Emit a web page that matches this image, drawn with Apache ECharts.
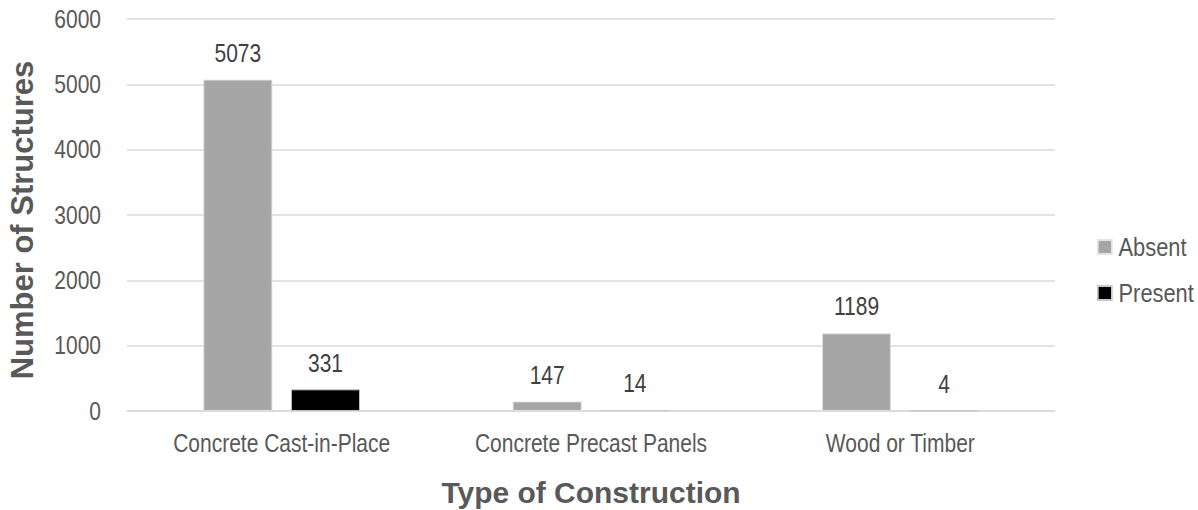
<!DOCTYPE html>
<html>
<head>
<meta charset="utf-8">
<script src="https://cdn.jsdelivr.net/npm/echarts@6/dist/echarts.min.js"></script>
<style>
  html, body { margin: 0; padding: 0; background: #fff; overflow: hidden; }
  #wrap { width: 1198px; height: 510px; overflow: hidden; }
  #chart { height: 510px; transform-origin: 0 0; }
</style>
</head>
<body>
<div id="wrap"><div id="chart"></div></div>
<script>
// Structures by construction type, split by presence of the feature
const categories = ['Concrete Cast-in-Place', 'Concrete Precast Panels', 'Wood or Timber'];
const absentValues = [5073, 147, 1189];
const presentValues = [331, 14, 4];
const yTicks = { min: 0, max: 6000, interval: 1000 };

// The chart is laid out on a wider canvas and squeezed horizontally,
// which gives the labels a narrow (condensed) sans-serif look.
const VIEW_W = 1198;
const LAYOUT_W = 1426;
const S = VIEW_W / LAYOUT_W;
const px = v => v / S;             // on-screen horizontal px -> layout px

const el = document.getElementById('chart');
el.style.width = LAYOUT_W + 'px';
el.style.transform = 'scaleX(' + S + ')';

const FONT = "'Liberation Sans', Arial, sans-serif";
const TEXT = '#595959';

const chart = echarts.init(el, null, { renderer: 'svg', width: LAYOUT_W, height: 510 });

const labelStyle = {
  show: true,
  position: 'top',
  distance: 14,
  color: '#404040',
  fontFamily: FONT,
  fontSize: 25
};

chart.setOption({
  animation: false,
  backgroundColor: '#fff',
  textStyle: { fontFamily: FONT },
  grid: { left: px(127), right: LAYOUT_W - px(1055), top: 19, bottom: 99 },
  legend: {
    orient: 'vertical',
    left: px(1097),
    top: 234,
    padding: 0,
    itemWidth: px(14),
    itemHeight: 14,
    itemGap: 20,
    icon: 'rect',
    textStyle: { color: TEXT, fontFamily: FONT, fontSize: 26, lineHeight: 26, padding: [0, 0, 0, 3] },
    data: ['Absent', 'Present']
  },
  // Axis titles keep full-width bold lettering
  graphic: [
    {
      type: 'text',
      x: px(591),
      y: 492,
      scaleX: 1 / S,
      style: {
        text: 'Type of Construction',
        font: "bold 30px 'Liberation Sans', Arial, sans-serif",
        fill: TEXT,
        align: 'center',
        verticalAlign: 'middle'
      }
    },
    {
      type: 'text',
      x: px(23),
      y: 220,
      rotation: Math.PI / 2,
      scaleY: 1 / S,
      style: {
        text: 'Number of Structures',
        font: "bold 31px 'Liberation Sans', Arial, sans-serif",
        fill: TEXT,
        align: 'center',
        verticalAlign: 'middle'
      }
    }
  ],
  xAxis: {
    type: 'category',
    data: categories,
    axisLine: { lineStyle: { color: '#d9d9d9', width: 1.5 } },
    axisTick: { show: false },
    axisLabel: { color: TEXT, fontFamily: FONT, fontSize: 25, margin: 20 }
  },
  yAxis: {
    type: 'value',
    min: yTicks.min,
    max: yTicks.max,
    interval: yTicks.interval,
    axisLine: { show: false },
    axisTick: { show: false },
    axisLabel: {
      color: TEXT, fontFamily: FONT, fontSize: 25, margin: px(26),
      formatter: v => String(v)
    },
    splitLine: { lineStyle: { color: '#d9d9d9', width: 1.5 } }
  },
  series: [
    {
      name: 'Absent',
      type: 'bar',
      data: absentValues,
      barWidth: px(69),
      barGap: '27%',
      itemStyle: { color: '#a6a6a6', borderColor: '#e3e3e3', borderWidth: 1 },
      label: labelStyle
    },
    {
      name: 'Present',
      type: 'bar',
      data: presentValues,
      barWidth: px(69),
      itemStyle: { color: '#000000', borderColor: '#c8c8c8', borderWidth: 1 },
      label: labelStyle
    }
  ]
});
</script>
</body>
</html>
